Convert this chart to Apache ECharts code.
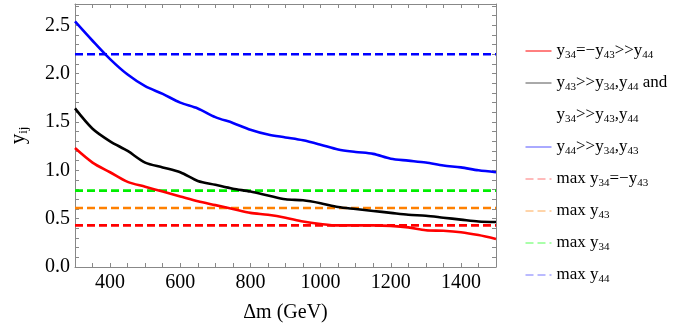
<!DOCTYPE html>
<html>
<head>
<meta charset="utf-8">
<script src="https://cdn.jsdelivr.net/npm/echarts@6/dist/echarts.min.js"></script>
<style>html,body{margin:0;padding:0;background:#fff}#c{width:692px;height:328px}</style>
</head>
<body>
<div id="c"></div>
<script>
// Δm (GeV) sample points
const dm = [300,350,400,450,500,550,600,650,700,750,800,850,900,950,1000,1050,1100,1150,1200,1250,1300,1350,1400,1450,1500];
// y34 = -y43 >> y44 (red)
const yRed = [1.23,1.08,0.98,0.88,0.83,0.78,0.73,0.68,0.64,0.60,0.56,0.54,0.51,0.47,0.445,0.43,0.43,0.43,0.425,0.41,0.38,0.375,0.36,0.33,0.29];
// y43 >> y34,y44 and y34 >> y43,y44 (black)
const yBlack = [1.64,1.43,1.30,1.20,1.08,1.03,0.98,0.89,0.85,0.81,0.78,0.74,0.70,0.69,0.66,0.62,0.60,0.58,0.56,0.54,0.53,0.51,0.49,0.47,0.465];
// y44 >> y34,y43 (blue)
const yBlue = [2.54,2.34,2.15,1.99,1.87,1.79,1.70,1.64,1.55,1.49,1.42,1.37,1.34,1.31,1.265,1.215,1.19,1.17,1.12,1.10,1.08,1.05,1.03,1.00,0.98];
// horizontal maxima
const maxY34eqMinusY43 = 0.43;
const maxY43 = 0.61;
const maxY34 = 0.79;
const maxY44 = 2.2;
const xRange = [300, 1500];
const xTickLabels = [400,600,800,1000,1200,1400];
const yTickLabels = [0.0,0.5,1.0,1.5,2.0,2.5];

const names = {
  red: 'y34=-y43>>y44',
  black: 'y43>>y34,y44 and',
  black2: 'y34>>y43,y44',
  blue: 'y44>>y34,y43',
  mRed: 'max y34=-y43',
  mOrange: 'max y43',
  mGreen: 'max y34',
  mBlue: 'max y44'
};
const labelRich = {};
labelRich[names.red] = 'y{s|34}=\u2212y{s|43}>>y{s|44}';
labelRich[names.black] = 'y{s|43}>>y{s|34},y{s|44} and';
labelRich[names.black2] = 'y{s|34}>>y{s|43},y{s|44}';
labelRich[names.blue] = 'y{s|44}>>y{s|34},y{s|43}';
labelRich[names.mRed] = 'max y{s|34}=\u2212y{s|43}';
labelRich[names.mOrange] = 'max y{s|43}';
labelRich[names.mGreen] = 'max y{s|34}';
labelRich[names.mBlue] = 'max y{s|44}';

const font = 'Liberation Serif';
const pairs = (ys) => dm.map((x, i) => [x, ys[i]]);
const hline = (v) => [[xRange[0], v], [xRange[1], v]];

function curve(name, color, ys) {
  return { name, type: 'line', data: pairs(ys), symbol: 'none', smooth: 0.3,
    lineStyle: { color, width: 2.6 }, itemStyle: { color }, z: 3 };
}
function dashed(name, color, v) {
  return { name, type: 'line', data: hline(v), symbol: 'none',
    lineStyle: { color, width: 2.6, type: [8, 4] }, itemStyle: { color }, z: 2 };
}

const chart = echarts.init(document.getElementById('c'), null, { renderer: 'canvas' });
const frameColor = '#888';
const tickStyle = { show: true, inside: true, length: 4, lineStyle: { color: frameColor } };
const xFmt = (v) => xTickLabels.includes(v) ? String(v) : '';
const yFmt = (v) => yTickLabels.some(t => Math.abs(t - v) < 1e-6) ? v.toFixed(1) : '';

chart.setOption({
  animation: false,
  backgroundColor: '#fff',
  grid: { left: 67.6, right: 196, top: 4, bottom: 60.7, containLabel: false },
  legend: {
    orient: 'vertical', left: 520, top: 36, itemWidth: 26, itemHeight: 14, itemGap: 12,
    textStyle: { fontFamily: font, fontSize: 17, color: '#000', lineHeight: 20,
      rich: { s: { fontFamily: font, fontSize: 11, lineHeight: 11, padding: [9, 0, 0, 0] } } },
    formatter: (n) => labelRich[n] || n,
    itemStyle: { opacity: 0 },
    lineStyle: { width: 1 },
    data: [
      { name: names.red },
      { name: names.black, lineStyle: { color: '#555' } },
      { name: names.black2 },
      { name: names.blue, lineStyle: { color: '#5555ff' } },
      { name: names.mRed, lineStyle: { color: '#ff7777' } },
      { name: names.mOrange, lineStyle: { color: '#ffaa55' } },
      { name: names.mGreen, lineStyle: { color: '#55ff55' } },
      { name: names.mBlue, lineStyle: { color: '#7777ff' } }
    ]
  },
  xAxis: [{
    type: 'value', min: xRange[0], max: xRange[1], interval: 50,
    name: '\u0394m (GeV)', nameLocation: 'middle', nameGap: 36,
    nameTextStyle: { fontFamily: font, fontSize: 20, color: '#000' },
    axisLine: { show: true, onZero: false, lineStyle: { color: frameColor } },
    axisTick: tickStyle,
    axisLabel: { formatter: xFmt, fontFamily: font, fontSize: 20, color: '#000', margin: 6, hideOverlap: false },
    splitLine: { show: false }
  }, {
    type: 'value', position: 'top', min: xRange[0], max: xRange[1], interval: 50,
    axisLine: { show: true, onZero: false, lineStyle: { color: frameColor } },
    axisTick: tickStyle, axisLabel: { show: false }, splitLine: { show: false }
  }],
  yAxis: [{
    type: 'value', min: 0, max: 2.72, interval: 0.1,
    name: 'y{s|ij}', nameLocation: 'middle', nameGap: 45, nameRotate: 90,
    nameTextStyle: { fontFamily: font, fontSize: 21, color: '#000',
      rich: { s: { fontFamily: font, fontSize: 13, padding: [10, 0, 0, 0] } } },
    axisLine: { show: true, onZero: false, lineStyle: { color: frameColor } },
    axisTick: tickStyle,
    axisLabel: { formatter: yFmt, fontFamily: font, fontSize: 20, color: '#000', margin: 5, showMaxLabel: false },
    splitLine: { show: false }
  }, {
    type: 'value', position: 'right', min: 0, max: 2.72, interval: 0.1,
    axisLine: { show: true, onZero: false, lineStyle: { color: frameColor } },
    axisTick: tickStyle, axisLabel: { show: false }, splitLine: { show: false }
  }],
  series: [
    curve(names.red, '#ff0000', yRed),
    curve(names.black, '#000000', yBlack),
    { name: names.black2, type: 'line', data: [], symbol: 'none',
      lineStyle: { color: 'rgba(0,0,0,0)', width: 0 }, itemStyle: { color: 'rgba(0,0,0,0)' } },
    curve(names.blue, '#0000ff', yBlue),
    dashed(names.mRed, '#ff0000', maxY34eqMinusY43),
    dashed(names.mOrange, '#ff8000', maxY43),
    dashed(names.mGreen, '#00ee00', maxY34),
    dashed(names.mBlue, '#0000ff', maxY44)
  ]
});
</script>
</body>
</html>
